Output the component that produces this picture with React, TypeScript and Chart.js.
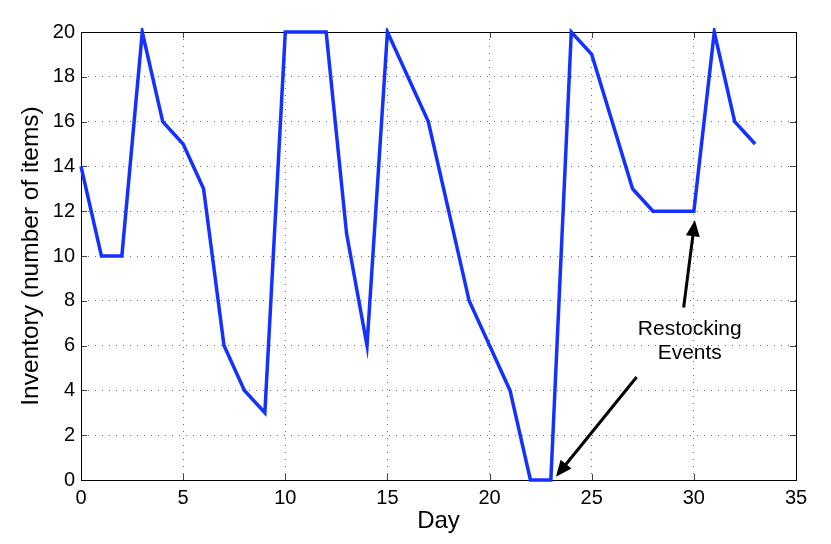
import React, { useEffect, useRef } from "react";
import { Chart, registerables } from "chart.js";

Chart.register(...registerables);

const days = [0, 1, 2, 3, 4, 5, 6, 7, 8, 9, 10, 11, 12, 13, 14, 15, 16, 17, 18, 19, 20, 21, 22, 23, 24, 25, 26, 27, 28, 29, 30, 31, 32, 33];
const inventory = [14, 10, 10, 20, 16, 15, 13, 6, 4, 3, 20, 20, 20, 11, 6, 20, 18, 16, 12, 8, 6, 4, 0, 0, 20, 19, 16, 13, 12, 12, 12, 20, 16, 15];

const xTicks = [0, 5, 10, 15, 20, 25, 30, 35];
const yTicks = [0, 2, 4, 6, 8, 10, 12, 14, 16, 18, 20];

const xTitle = "Day";
const yTitle = "Inventory (number of items)";

const noteLines = ["Restocking", "Events"];
const noteAnchor = { x: 29.8, y: 6.75 };
const arrowTails = [
  { x: 29.5, y: 7.7 },
  { x: 27.2, y: 4.6 },
];
const arrowTips = [
  { x: 30.05, y: 11.6 },
  { x: 23.25, y: 0.15 },
];

const FONT = "'Liberation Sans', Arial, Helvetica, sans-serif";

const framePlugin = {
  id: "frameTicks",
  beforeDatasetsDraw(chart: any) {
    const { ctx, chartArea, scales } = chart;
    const { left, right, top, bottom } = chartArea;
    const x = scales.x;
    const y = scales.y;
    const L = 6;
    ctx.save();
    ctx.strokeStyle = "#444";
    ctx.lineWidth = 1;
    ctx.beginPath();
    xTicks.forEach((v) => {
      const px = Math.round(x.getPixelForValue(v)) + 0.5;
      ctx.moveTo(px, bottom);
      ctx.lineTo(px, bottom - L);
      ctx.moveTo(px, top);
      ctx.lineTo(px, top + L);
    });
    yTicks.forEach((v) => {
      const py = Math.round(y.getPixelForValue(v)) + 0.5;
      ctx.moveTo(left, py);
      ctx.lineTo(left + L, py);
      ctx.moveTo(right, py);
      ctx.lineTo(right - L, py);
    });
    ctx.stroke();
    ctx.strokeStyle = "#000";
    ctx.strokeRect(Math.round(left) + 0.5, Math.round(top) + 0.5, Math.round(right - left), Math.round(bottom - top));
    ctx.restore();
  },
  afterDatasetsDraw(chart: any) {
    const { ctx, scales } = chart;
    const x = scales.x;
    const y = scales.y;
    ctx.save();
    ctx.strokeStyle = "#000";
    ctx.fillStyle = "#000";
    ctx.lineWidth = 3;
    arrowTails.forEach((t, i) => {
      const tip = arrowTips[i];
      const x0 = x.getPixelForValue(t.x);
      const y0 = y.getPixelForValue(t.y);
      const x1 = x.getPixelForValue(tip.x);
      const y1 = y.getPixelForValue(tip.y);
      const ang = Math.atan2(y1 - y0, x1 - x0);
      const hl = 16;
      const hw = 7;
      const bx = x1 - hl * Math.cos(ang);
      const by = y1 - hl * Math.sin(ang);
      ctx.beginPath();
      ctx.moveTo(x0, y0);
      ctx.lineTo(bx + 2 * Math.cos(ang), by + 2 * Math.sin(ang));
      ctx.stroke();
      ctx.beginPath();
      ctx.moveTo(x1, y1);
      ctx.lineTo(bx - hw * Math.sin(ang), by + hw * Math.cos(ang));
      ctx.lineTo(bx + hw * Math.sin(ang), by - hw * Math.cos(ang));
      ctx.closePath();
      ctx.fill();
    });
    ctx.font = `21px ${FONT}`;
    ctx.textAlign = "center";
    ctx.textBaseline = "middle";
    const ax = x.getPixelForValue(noteAnchor.x);
    const ay = y.getPixelForValue(noteAnchor.y);
    noteLines.forEach((line, i) => {
      ctx.fillText(line, ax, ay + i * 24);
    });
    ctx.restore();
  },
};

export default function App() {
  const ref = useRef<HTMLCanvasElement | null>(null);

  useEffect(() => {
    if (!ref.current) return;
    const gridColor = (ctx: any) => {
      const v = ctx.tick ? ctx.tick.value : null;
      const scale = ctx.scale;
      if (v === scale.min || v === scale.max) return "rgba(0,0,0,0)";
      return "rgba(60,60,60,0.75)";
    };
    const chart = new Chart(ref.current, {
      type: "line",
      data: {
        datasets: [
          {
            data: days.map((d, i) => ({ x: d, y: inventory[i] })),
            borderColor: "rgb(20,50,255)",
            borderWidth: 3.5,
            pointRadius: 0,
            tension: 0,
            fill: false,
            borderJoinStyle: "miter",
            clip: 4,
          } as any,
        ],
      },
      options: {
        animation: false,
        responsive: true,
        maintainAspectRatio: false,
        layout: { padding: { top: 32, right: 35, left: 0, bottom: 0 } },
        plugins: { legend: { display: false }, tooltip: { enabled: false } },
        scales: {
          x: {
            type: "linear",
            min: 0,
            max: 35,
            afterFit: (s: any) => {
              s.height = 64;
            },
            afterBuildTicks: (s: any) => {
              s.ticks = xTicks.map((v) => ({ value: v }));
            },
            ticks: {
              autoSkip: false,
              maxRotation: 0,
              padding: 6,
              color: "#000",
              font: { family: FONT, size: 20 },
            },
            grid: { color: gridColor, lineWidth: 1, drawTicks: false },
            border: { display: false, dash: [1, 6] },
            title: {
              display: true,
              text: xTitle,
              color: "#000",
              font: { family: FONT, size: 24 },
              padding: { top: 0, bottom: 8 },
            },
          },
          y: {
            type: "linear",
            min: 0,
            max: 20,
            afterFit: (s: any) => {
              s.width = 81;
            },
            afterBuildTicks: (s: any) => {
              s.ticks = yTicks.map((v) => ({ value: v }));
            },
            ticks: {
              autoSkip: false,
              padding: 6,
              color: "#000",
              font: { family: FONT, size: 20 },
            },
            grid: { color: gridColor, lineWidth: 1, drawTicks: false },
            border: { display: false, dash: [1, 6] },
            title: {
              display: true,
              text: yTitle,
              color: "#000",
              font: { family: FONT, size: 24.5 },
              padding: { top: 17, bottom: 0 },
            },
          },
        },
      },
      plugins: [framePlugin],
    });
    return () => chart.destroy();
  }, []);

  return (
    <div style={{ position: "absolute", left: 0, top: 0, width: 831, height: 544, background: "#fff" }}>
      <canvas ref={ref} />
    </div>
  );
}
